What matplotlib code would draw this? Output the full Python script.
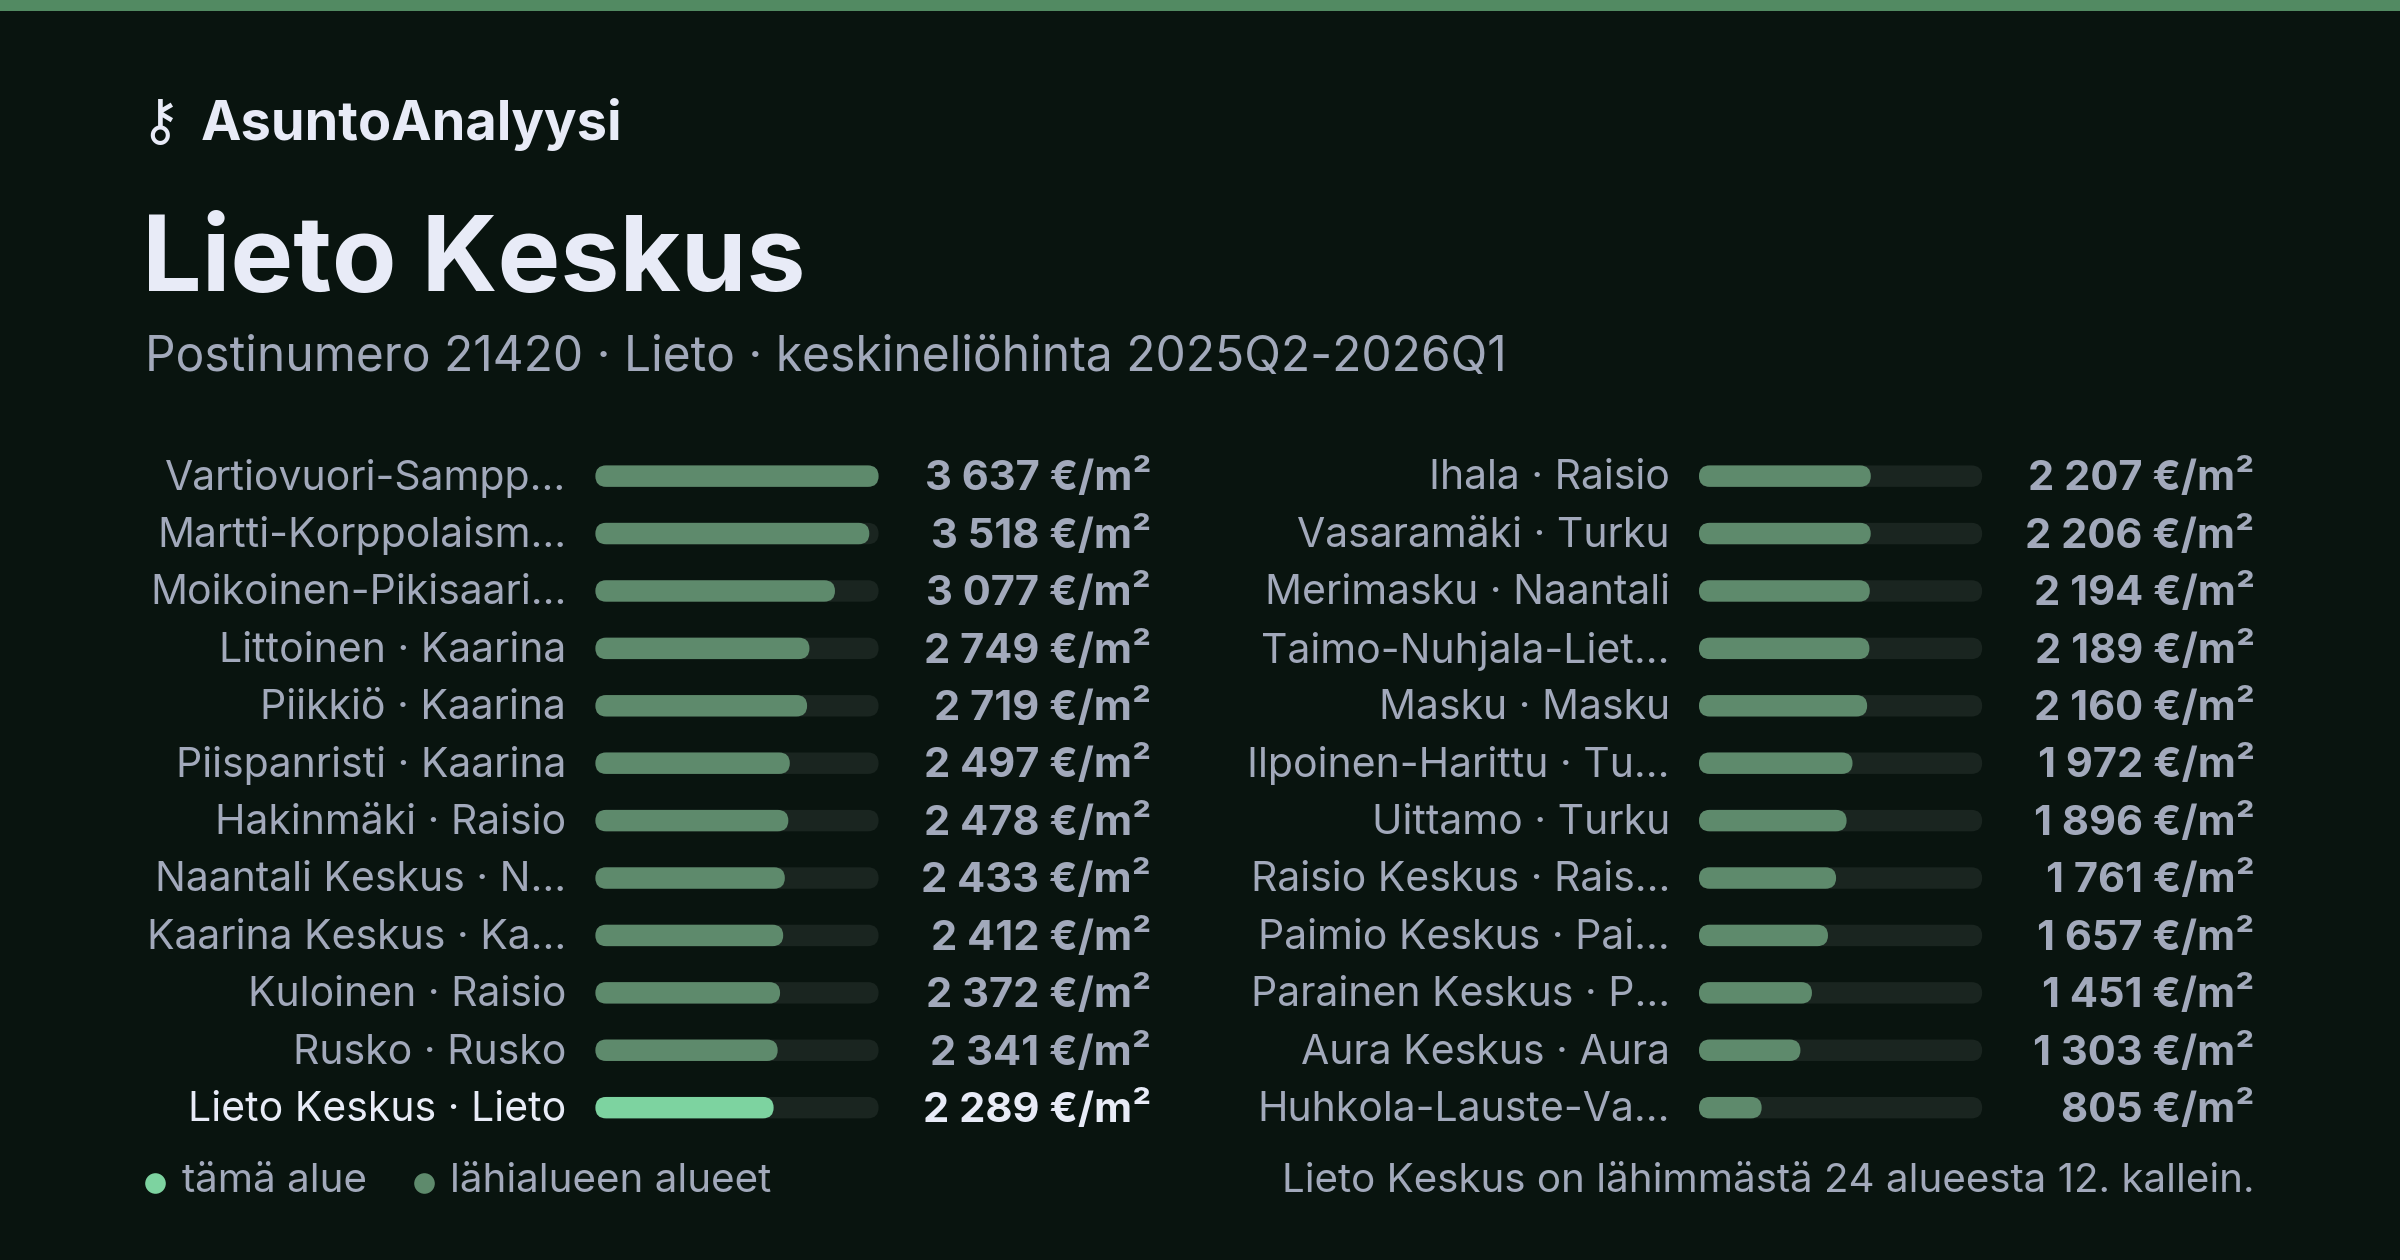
import matplotlib.pyplot as plt
from matplotlib.patches import FancyBboxPatch, Rectangle

plt.rcParams['font.family'] = ['Inter', 'DejaVu Sans']

left_names = ["Vartiovuori-Sampp…", "Martti-Korppolaism…", "Moikoinen-Pikisaari…",
              "Littoinen · Kaarina", "Piikkiö · Kaarina", "Piispanristi · Kaarina",
              "Hakinmäki · Raisio", "Naantali Keskus · N…", "Kaarina Keskus · Ka…",
              "Kuloinen · Raisio", "Rusko · Rusko", "Lieto Keskus · Lieto"]
left_values = [3637, 3518, 3077, 2749, 2719, 2497, 2478, 2433, 2412, 2372, 2341, 2289]
right_names = ["Ihala · Raisio", "Vasaramäki · Turku", "Merimasku · Naantali",
               "Taimo-Nuhjala-Liet…", "Masku · Masku", "Ilpoinen-Harittu · Tu…",
               "Uittamo · Turku", "Raisio Keskus · Rais…", "Paimio Keskus · Pai…",
               "Parainen Keskus · P…", "Aura Keskus · Aura", "Huhkola-Lauste-Va…"]
right_values = [2207, 2206, 2194, 2189, 2160, 1972, 1896, 1761, 1657, 1451, 1303, 805]
highlight = "Lieto Keskus · Lieto"

BG = "#09140f"
BAR = "#5e8a6c"
HI = "#7dd3a0"
TRACK = "#1a2520"
GREY = "#a2a9bb"
WHITE = "#e8ebf7"

fig = plt.figure(figsize=(24, 12.6), dpi=100, facecolor=BG)
ax = fig.add_axes([0, 0, 1, 1])
ax.set_xlim(0, 1568)
ax.set_ylim(823, 0)
ax.axis("off")
ax.set_facecolor(BG)

ax.add_patch(Rectangle((0, 0), 1568, 7, color="#528a62", lw=0))

ax.text(131, 81, "AsuntoAnalyysi", color=WHITE, fontsize=39, fontweight="bold", va="center")
ax.text(104, 81, "⚷", color=WHITE, fontsize=40, va="center", ha="center")
ax.text(93, 172, "Lieto Keskus", color=WHITE, fontsize=76, fontweight="bold", va="center")
ax.text(95, 234, "Postinumero 21420 · Lieto · keskineliöhinta 2025Q2-2026Q1",
        color=GREY, fontsize=34.5, va="center")

vmax = max(left_values + right_values)


def fmt(v):
    return f"{v:,}".replace(",", " ") + " €/m²"


def column(names, values, label_x, bar_x, val_x, width=185, h=14):
    for i, (n, v) in enumerate(zip(names, values)):
        y = 311 + i * 37.5
        is_hi = n == highlight
        tc = WHITE if is_hi else GREY
        ax.text(label_x, y + 1.5, n, color=tc, fontsize=29.5, ha="right", va="center")
        ax.add_patch(FancyBboxPatch((bar_x, y - h / 2), width, h,
                                    boxstyle=f"round,pad=0,rounding_size={h/2}",
                                    fc=TRACK, ec="none"))
        w = width * v / vmax
        ax.add_patch(FancyBboxPatch((bar_x, y - h / 2), w, h,
                                    boxstyle=f"round,pad=0,rounding_size={h/2}",
                                    fc=HI if is_hi else BAR, ec="none"))
        ax.text(val_x, y + 1.5, fmt(v), color=tc, fontsize=30, fontweight="bold",
                ha="right", va="center")


column(left_names, left_values, 370, 389, 752)
column(right_names, right_values, 1091, 1110, 1473)

ax.scatter([101], [773], s=220, color=HI, lw=0)
ax.text(119, 771.5, "tämä alue", color=GREY, fontsize=29, va="center")
ax.scatter([277], [773], s=220, color=BAR, lw=0)
ax.text(294, 771.5, "lähialueen alueet", color=GREY, fontsize=29, va="center")
ax.text(1473, 771.5, "Lieto Keskus on lähimmästä 24 alueesta 12. kallein.",
        color=GREY, fontsize=29, ha="right", va="center")

fig.savefig("out.png", dpi=100, facecolor=BG)
